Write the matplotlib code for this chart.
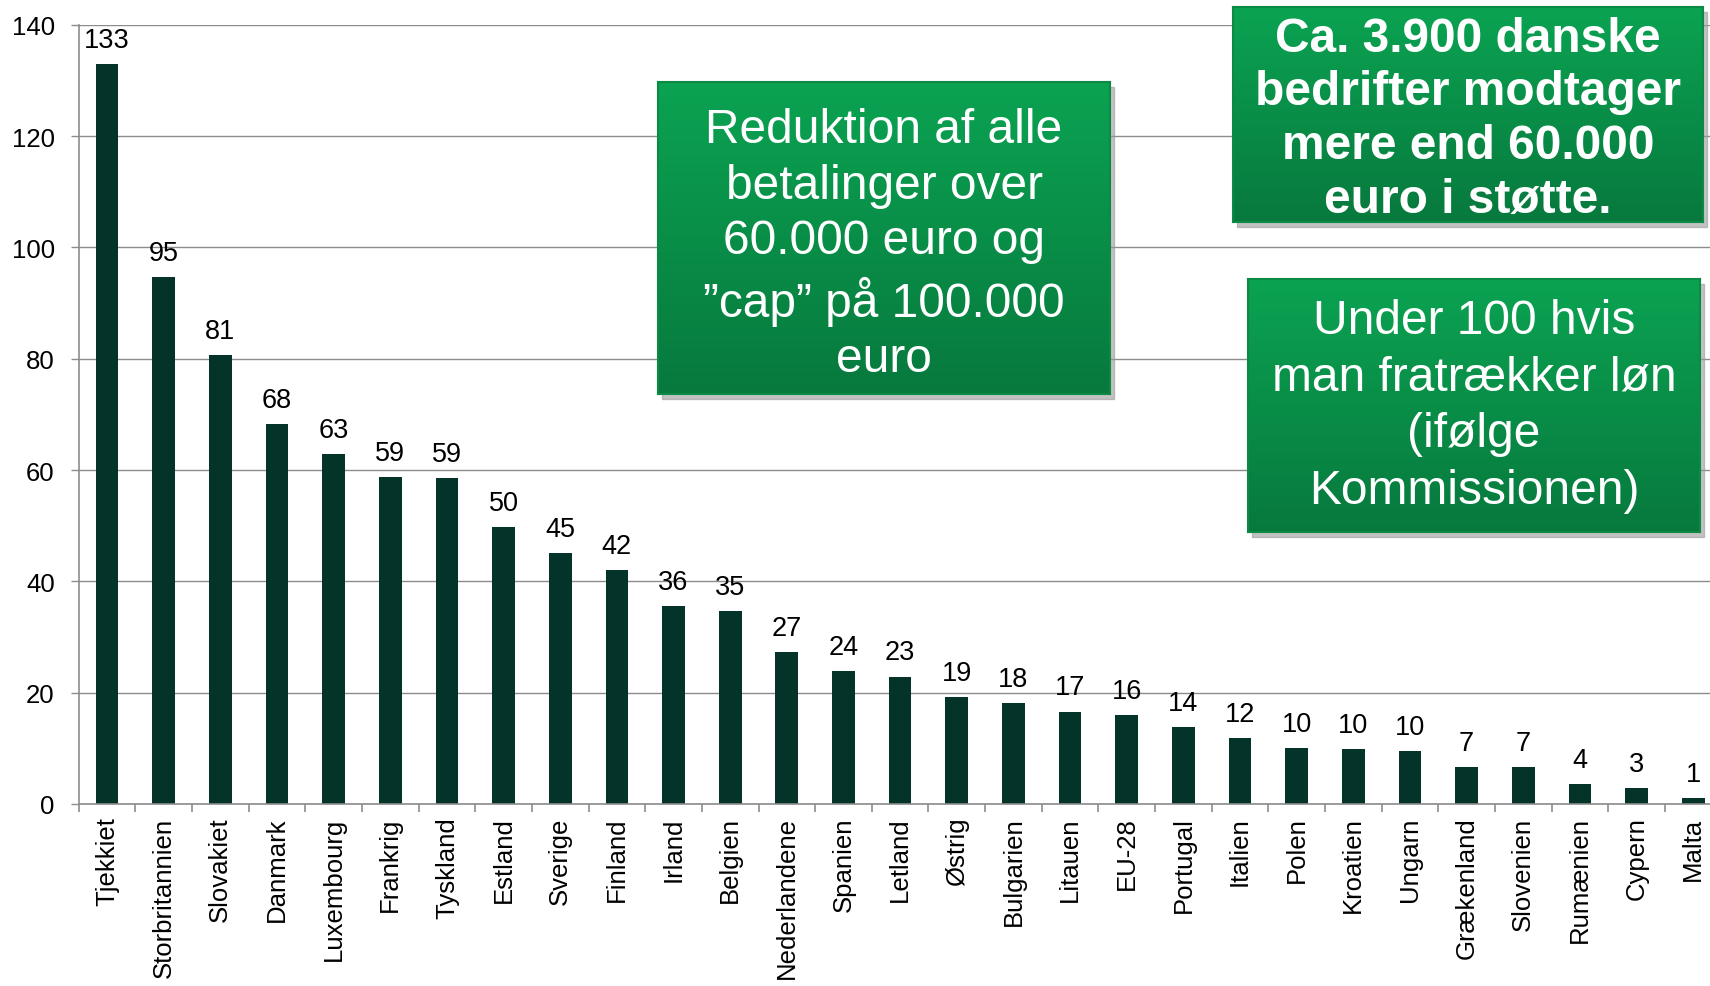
"""
Betalinger over 60.000 euro - landesammenligning
"""

import matplotlib.pyplot as plt
import numpy as np
from matplotlib.patches import Rectangle

plt.rcParams['font.family'] = ['Liberation Sans', 'DejaVu Sans']

lande = ['Tjekkiet', 'Storbritannien', 'Slovakiet', 'Danmark', 'Luxembourg', 'Frankrig',
         'Tyskland', 'Estland', 'Sverige', 'Finland', 'Irland', 'Belgien', 'Nederlandene',
         'Spanien', 'Letland', 'Østrig', 'Bulgarien', 'Litauen', 'EU-28', 'Portugal',
         'Italien', 'Polen', 'Kroatien', 'Ungarn', 'Grækenland', 'Slovenien', 'Rumænien',
         'Cypern', 'Malta']
vaerdier = [132.9, 94.6, 80.7, 68.2, 62.8, 58.7, 58.6, 49.8, 45.1, 42.0, 35.5, 34.6, 27.3,
            23.9, 22.9, 19.2, 18.2, 16.6, 15.9, 13.8, 11.8, 10.0, 9.8, 9.5, 6.7, 6.6, 3.6,
            2.9, 1.1]
y_ticks = [0, 20, 40, 60, 80, 100, 120, 140]

boks1_tekst = 'Reduktion af alle\nbetalinger over\n60.000 euro og\n\u201dcap\u201d på 100.000\neuro'
boks2_tekst = 'Ca. 3.900 danske\nbedrifter modtager\nmere end 60.000\neuro i støtte.'
boks3_tekst = 'Under 100 hvis\nman fratrækker løn\n(ifølge\nKommissionen)'

W, H = 1710, 987
fig = plt.figure(figsize=(W / 100, H / 100), dpi=100)

# plotområde (går lidt ud over højre kant som i originalen)
x0, ytop, y0, step = 78.7, 25.7, 805, 56.65
ax = fig.add_axes([x0 / W, (H - y0) / H, len(lande) * step / W, (y0 - ytop) / H])

x = np.arange(len(lande))
bars = ax.bar(x, vaerdier, width=0.40, color='#04332a', zorder=3)
ax.bar_label(bars, labels=[f'{v:.0f}' for v in vaerdier], padding=8, fontsize=19.5)

ax.set_xlim(-0.5, len(lande) - 0.5)
ax.set_ylim(0, 140)
ax.set_yticks(y_ticks)
ax.set_xticks(x)
ax.set_xticklabels(lande, rotation=90, fontsize=18.5)
ax.set_xticks(np.arange(len(lande) + 1) - 0.5, minor=True)
ax.tick_params(axis='x', which='major', length=0, pad=9)
ax.tick_params(axis='x', which='minor', length=5.5, width=1.2, color='#8c8c8c')
ax.tick_params(axis='y', length=5.8, width=1.0, color='#8c8c8c', pad=11.5, labelsize=18.5)
ax.yaxis.grid(True, color='#8c8c8c', linewidth=1.0, zorder=0)
ax.set_axisbelow(True)
for s in ['top', 'right']:
    ax.spines[s].set_visible(False)
for s in ['left', 'bottom']:
    ax.spines[s].set_color('#8c8c8c')
    ax.spines[s].set_linewidth(1.2)
ax.spines['bottom'].set_zorder(4)


def groen_boks(l, t, r, b, tekst, size, weight, ls, ty=0.5):
    # skygge
    fig.patches.append(Rectangle(((l + 4) / W, (H - b - 5) / H), (r - l) / W, (b - t) / H,
                                 transform=fig.transFigure, color='#9a9a9a', alpha=0.6,
                                 zorder=4))
    bax = fig.add_axes([l / W, (H - b) / H, (r - l) / W, (b - t) / H], zorder=5)
    grad = np.linspace(0, 1, 256).reshape(-1, 1)
    top_c = np.array([0x0b, 0xa3, 0x52]) / 255
    bot_c = np.array([0x07, 0x79, 0x3d]) / 255
    img = top_c + (bot_c - top_c) * grad[..., None]
    bax.imshow(img.reshape(256, 1, 3), aspect='auto', extent=[0, 1, 0, 1])
    bax.set_xlim(0, 1)
    bax.set_ylim(0, 1)
    bax.set_xticks([])
    bax.set_yticks([])
    for s in bax.spines.values():
        s.set_color('#0a8a45')
        s.set_linewidth(1.5)
    bax.text(0.5, ty, tekst, ha='center', va='center', color='white', fontsize=size,
             fontweight=weight, linespacing=ls, transform=bax.transAxes)


groen_boks(658, 83, 1110, 395, boks1_tekst, 34.5, 'normal', 1.3, ty=0.48)
groen_boks(1233, 8, 1703, 223, boks2_tekst, 34.5, 'bold', 1.25, ty=0.48)
groen_boks(1248, 280, 1700, 533, boks3_tekst, 34.5, 'normal', 1.33)

plt.savefig('out.png', dpi=100)
